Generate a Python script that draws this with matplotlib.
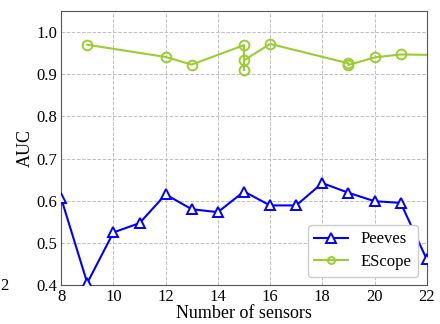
import numpy as np
import matplotlib
matplotlib.use('Agg')
import matplotlib.pyplot as plt

plt.rcParams['font.family'] = ['Liberation Serif', 'DejaVu Serif']

# data
peeves_x = [8, 9, 10, 11, 12, 13, 14, 15, 16, 17, 18, 19, 20, 21, 22]
peeves_y = [0.606, 0.405, 0.525, 0.547, 0.615, 0.580, 0.573, 0.622, 0.589, 0.589, 0.642, 0.619, 0.599, 0.595, 0.461]
escope_x = [9, 12, 13, 15, 15, 15, 16, 19, 19, 20, 21, 23]
escope_y = [0.970, 0.941, 0.923, 0.969, 0.910, 0.933, 0.972, 0.926, 0.922, 0.940, 0.947, 0.945]
xticks = [8, 10, 12, 14, 16, 18, 20, 22]
yticks = [0.4, 0.5, 0.6, 0.7, 0.8, 0.9, 1.0]

fig = plt.figure(figsize=(4.4, 3.24), dpi=100)
ax = fig.add_axes([0.139, 0.120, 0.831, 0.846])

ax.plot(peeves_x, peeves_y, color='#0000ff', lw=1.5, marker='^', ms=7,
        mfc='white', mew=1.4, label='Peeves', zorder=3)
ax.plot(escope_x, escope_y, color='#9acd32', lw=1.5, marker='o', ms=7,
        mfc='none', mew=1.4, label='EScope', zorder=3)

ax.set_xlim(8, 22)
ax.set_ylim(0.4, 1.05)
ax.set_xticks(xticks)
ax.set_yticks(yticks)
ax.tick_params(axis='both', labelsize=12, length=0, pad=3)
ax.grid(True, ls='--', color='#c0c0c0', lw=0.7)
for s in ax.spines.values():
    s.set_color('#555555')

ax.set_xlabel('Number of sensors', fontsize=13, labelpad=0)
ax.set_ylabel('AUC', fontsize=13, labelpad=2)

leg = ax.legend(loc='lower right', fontsize=12, handlelength=2.0,
                borderpad=0.4, labelspacing=0.4, framealpha=1,
                edgecolor='#cccccc', fancybox=True)
leg.legend_handles[1].set_markersize(5)

fig.text(0.0, 0.118, '2', fontsize=12, va='center', ha='left')

plt.savefig('out.png', dpi=100)
